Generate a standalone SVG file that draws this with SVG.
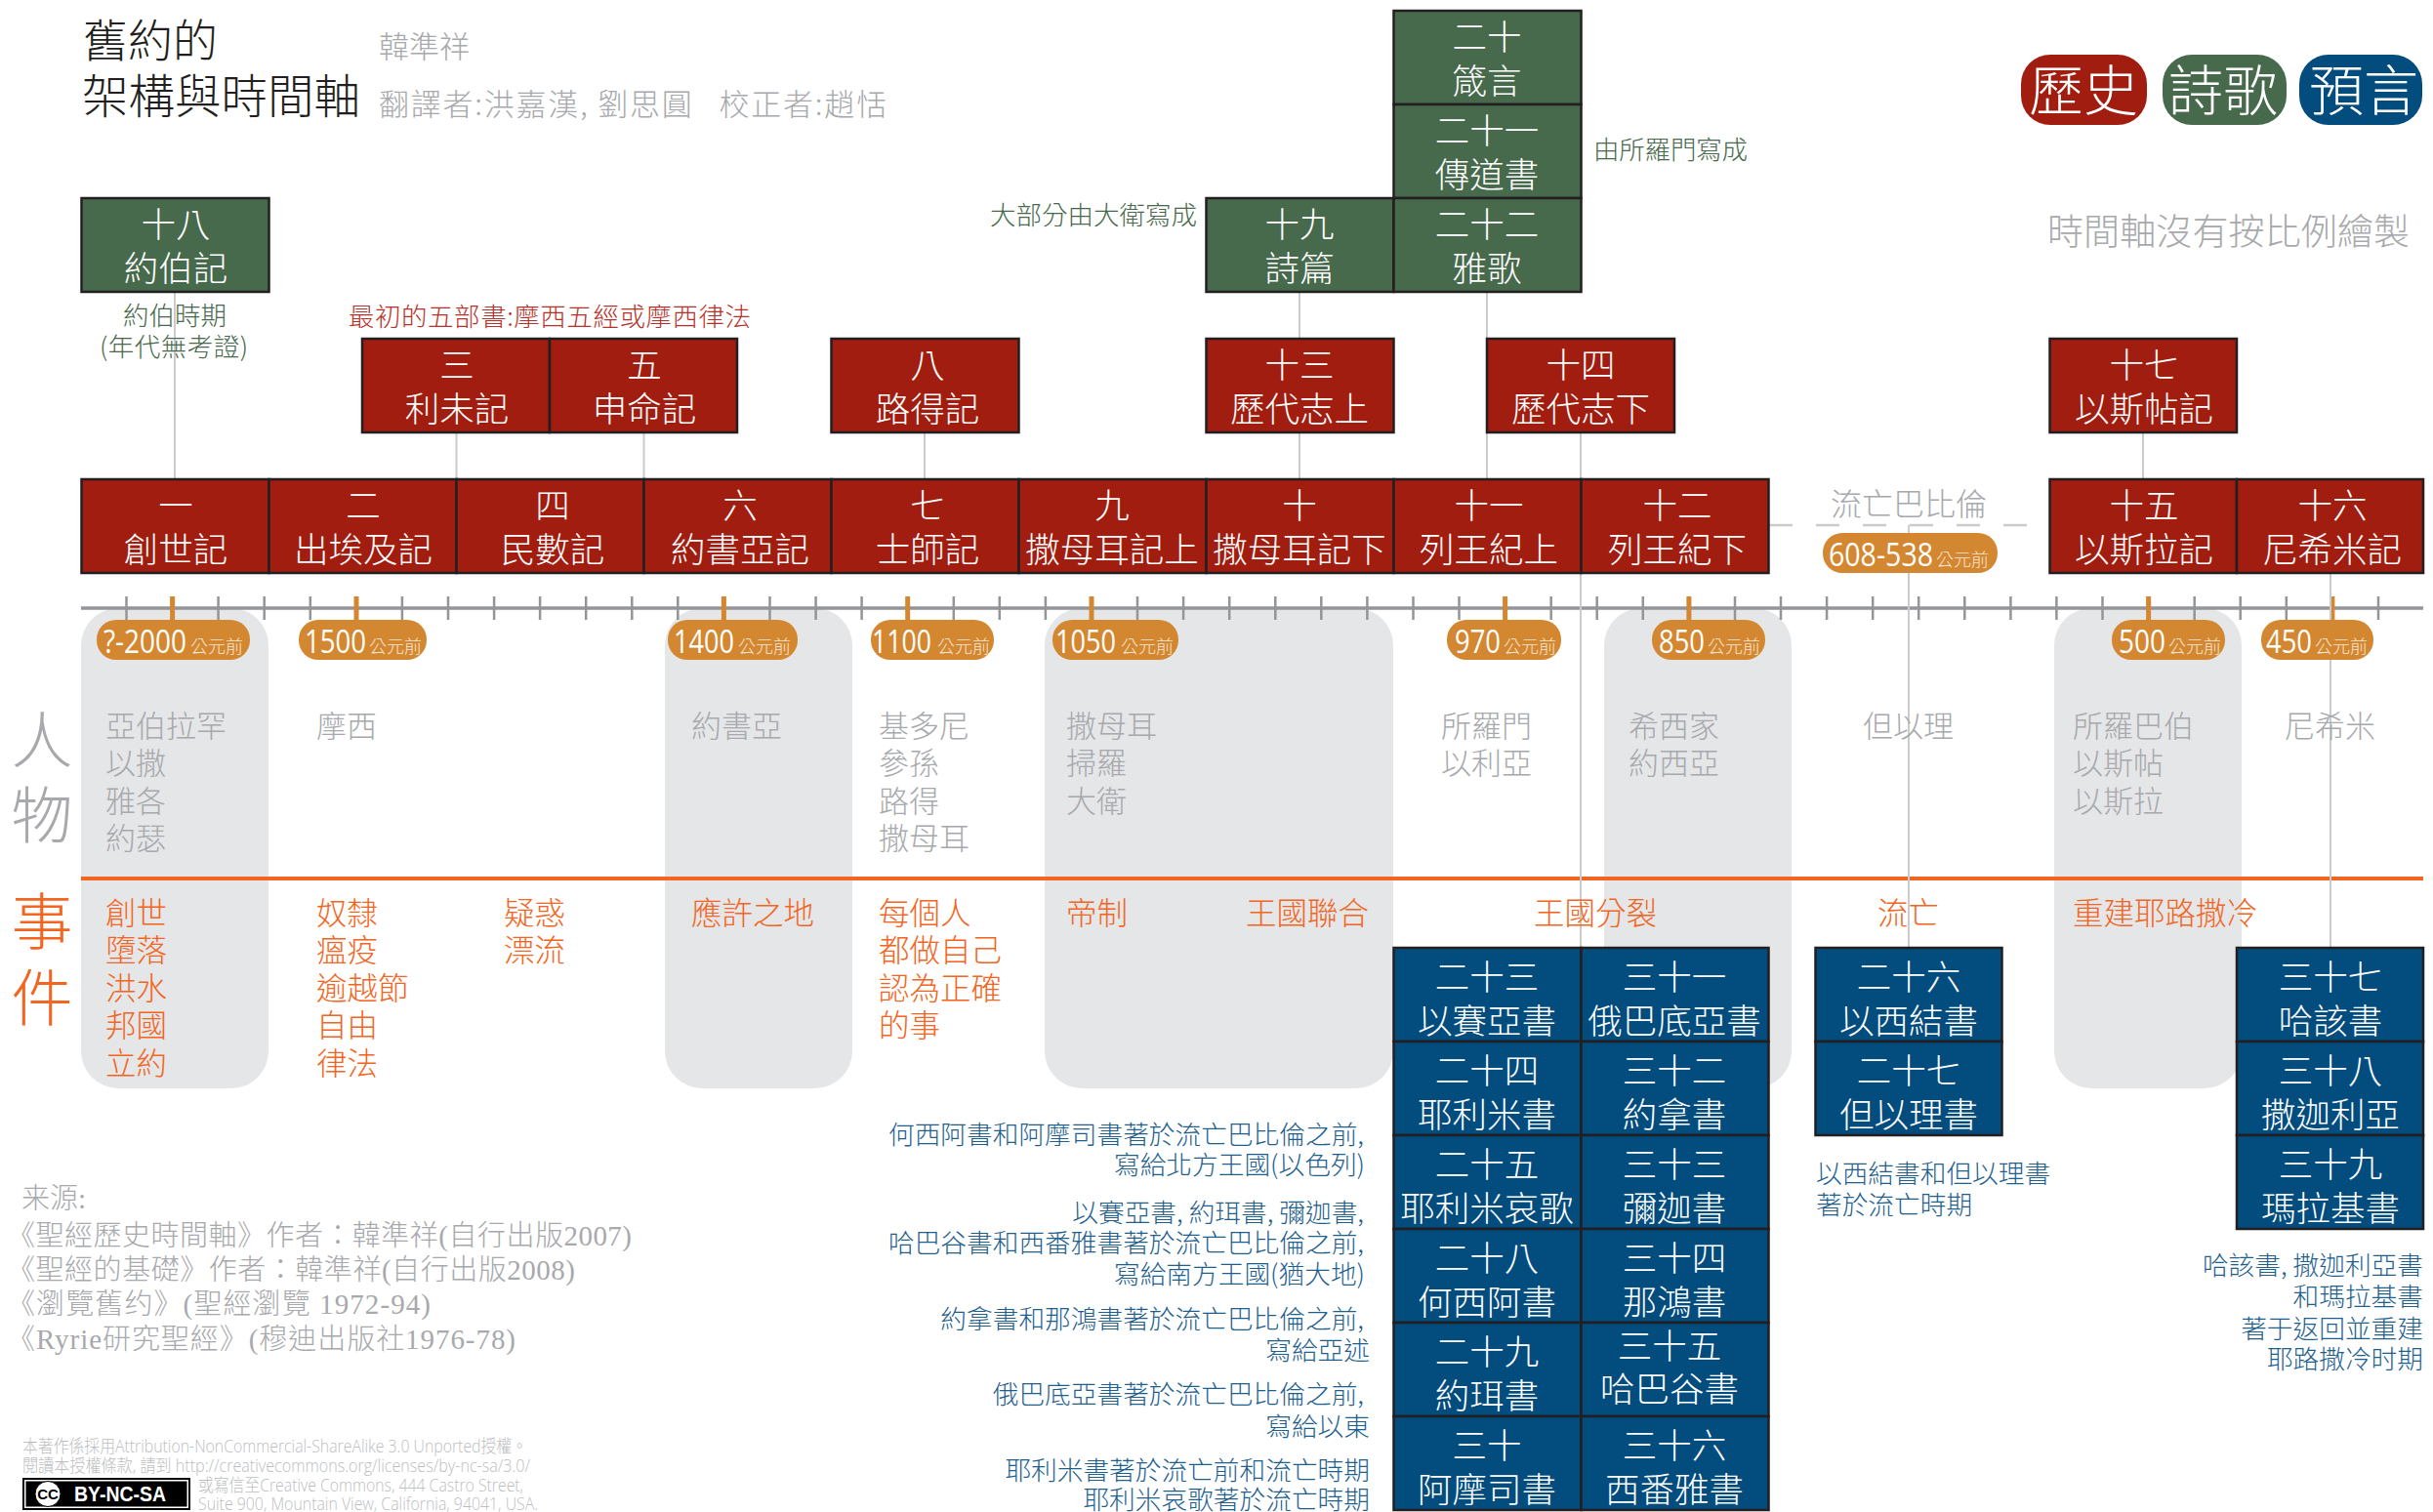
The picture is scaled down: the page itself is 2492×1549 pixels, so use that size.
<svg xmlns="http://www.w3.org/2000/svg" width="2492" height="1549" viewBox="0 0 2492 1549">
<style>
text{font-family:"Noto Sans CJK TC","Noto Sans CJK SC",sans-serif;font-weight:300}
.box{stroke:#231f20;stroke-width:2.5}
.red{fill:#a11d10}.green{fill:#47694c}.blue{fill:#034c7e}
.bt{font-size:35.5px;fill:#fff;text-anchor:middle}
.panel{fill:#e5e6e8}
.conn{stroke:#cbcbcb;stroke-width:2;fill:none}
.pill{fill:#d48731}
.num{font-family:"Open Sans",sans-serif;font-size:33px;fill:#fff;font-weight:400}
.unit{font-size:18px;fill:#f8e6d2}
.ppl{font-size:31px;fill:#a7a9ac}
.evt{font-size:31.5px;fill:#f26522}
.big{font-size:63px;text-anchor:middle}
.note{font-size:26.7px;fill:#1f5f8e}
.r{text-anchor:end}
.gn{font-size:26.5px;fill:#47694c}
.src{font-family:"Liberation Serif","Noto Sans CJK TC",serif;font-size:29px;fill:#a7a9ac}
.lic{font-family:"Open Sans","Noto Sans CJK TC",sans-serif;font-size:18px;fill:#bcbec0}
.leg{font-size:56px;fill:#fff;text-anchor:middle}
</style>

<g id="panels">
<rect class="panel" x="83" y="623" width="192" height="492" rx="38"/>
<rect class="panel" x="681" y="623" width="192" height="492" rx="38"/>
<rect class="panel" x="1070" y="623" width="357" height="492" rx="38"/>
<rect class="panel" x="1643" y="623" width="192" height="492" rx="38"/>
<rect class="panel" x="2104" y="623" width="192" height="492" rx="38"/>
</g>

<g id="timeline">
<path d="M83 900H2482" stroke="#f26522" stroke-width="4" fill="none"/>
<path d="M83 623H2482" stroke="#939598" stroke-width="3.5" fill="none"/>
<path fill="none" stroke="#939598" stroke-width="2.5" d="M129.5 611V635M223.6 611V635M270.7 611V635M317.8 611V635M411.9 611V635M459 611V635M506.1 611V635M553.1 611V635M600.2 611V635M647.3 611V635M694.3 611V635M788.5 611V635M835.6 611V635M882.6 611V635M976.8 611V635M1023.8 611V635M1070.9 611V635M1165 611V635M1212.1 611V635M1259.2 611V635M1306.3 611V635M1353.3 611V635M1400.4 611V635M1447.5 611V635M1494.5 611V635M1588.7 611V635M1635.7 611V635M1682.8 611V635M1777 611V635M1824 611V635M1871.1 611V635M1918.2 611V635M1965.2 611V635M2012.3 611V635M2059.4 611V635M2106.4 611V635M2153.5 611V635M2247.7 611V635M2294.7 611V635M2341.8 611V635M2436 611V635"/>
<path fill="none" stroke="#d48731" stroke-width="5" d="M176.6 611V636M365 611V636M741.4 611V636M929.7 611V636M1118 611V636M1541.6 611V636M1729.9 611V636M2200.6 611V636M2388.9 611V636"/>
</g>

<g id="connectors">
<path class="conn" d="M179 300V490M467.5 443V490M659.5 443V490M947 443V490M1331 300V346M1331 443V490M1523 300V490M1619 443V971M2195 443V490M1955 538V971M2387 587V971"/>
<path fill="none" stroke="#cbcbcb" stroke-width="2.5" stroke-dasharray="24 24" d="M1812 538H2076"/>
</g>

<g id="dates">
<g id="d1"><rect class="pill" x="99" y="635" width="157" height="41" rx="20"/><text class="num" x="106" y="669" textLength="85" lengthAdjust="spacingAndGlyphs">?-2000</text><text class="unit" x="195" y="669">公元前</text></g>
<g id="d2"><rect class="pill" x="306" y="635" width="131" height="41" rx="20"/><text class="num" x="312" y="669" textLength="63" lengthAdjust="spacingAndGlyphs">1500</text><text class="unit" x="378" y="669">公元前</text></g>
<g id="d3"><rect class="pill" x="684" y="635" width="133" height="41" rx="20"/><text class="num" x="690" y="669" textLength="62" lengthAdjust="spacingAndGlyphs">1400</text><text class="unit" x="756" y="669">公元前</text></g>
<g id="d4"><rect class="pill" x="892" y="635" width="126" height="41" rx="20"/><text class="num" x="893" y="669" textLength="61" lengthAdjust="spacingAndGlyphs">1100</text><text class="unit" x="960" y="669">公元前</text></g>
<g id="d5"><rect class="pill" x="1078" y="635" width="129" height="41" rx="20"/><text class="num" x="1081" y="669" textLength="62" lengthAdjust="spacingAndGlyphs">1050</text><text class="unit" x="1148" y="669">公元前</text></g>
<g id="d6"><rect class="pill" x="1482" y="635" width="117" height="41" rx="20"/><text class="num" x="1490" y="669" textLength="47" lengthAdjust="spacingAndGlyphs">970</text><text class="unit" x="1540" y="669">公元前</text></g>
<g id="d7"><rect class="pill" x="1692" y="635" width="116" height="41" rx="20"/><text class="num" x="1699" y="669" textLength="47" lengthAdjust="spacingAndGlyphs">850</text><text class="unit" x="1749" y="669">公元前</text></g>
<g id="d8"><rect class="pill" x="2163" y="635" width="116" height="41" rx="20"/><text class="num" x="2170" y="669" textLength="48" lengthAdjust="spacingAndGlyphs">500</text><text class="unit" x="2221" y="669">公元前</text></g>
<g id="d9"><rect class="pill" x="2316" y="635" width="115" height="41" rx="20"/><text class="num" x="2321" y="669" textLength="47" lengthAdjust="spacingAndGlyphs">450</text><text class="unit" x="2371" y="669">公元前</text></g>
<g id="d10"><rect class="pill" x="1867" y="546" width="179" height="41" rx="20"/><text class="num" x="1873" y="580" textLength="107" lengthAdjust="spacingAndGlyphs">608-538</text><text class="unit" x="1983" y="580">公元前</text></g>
</g>

<g id="n18"><rect class="box green" x="83.5" y="203" width="192" height="96"/><text class="bt" x="180" y="243">十八</text><text class="bt" x="180" y="288">約伯記</text></g>
<g id="n19"><rect class="box green" x="1235.5" y="203" width="192" height="96"/><text class="bt" x="1331" y="243">十九</text><text class="bt" x="1331" y="288">詩篇</text></g>
<g id="n20"><rect class="box green" x="1427.5" y="11" width="192" height="96"/><text class="bt" x="1523" y="51">二十</text><text class="bt" x="1523" y="96">箴言</text></g>
<g id="n21"><rect class="box green" x="1427.5" y="107" width="192" height="96"/><text class="bt" x="1523" y="147">二十一</text><text class="bt" x="1523" y="192">傳道書</text></g>
<g id="n22"><rect class="box green" x="1427.5" y="203" width="192" height="96"/><text class="bt" x="1523" y="243">二十二</text><text class="bt" x="1523" y="288">雅歌</text></g>

<g id="n3"><rect class="box red" x="371" y="347" width="192" height="96"/><text class="bt" x="468" y="387">三</text><text class="bt" x="468" y="432">利未記</text></g>
<g id="n5"><rect class="box red" x="563" y="347" width="192" height="96"/><text class="bt" x="660" y="387">五</text><text class="bt" x="660" y="432">申命記</text></g>
<g id="n8"><rect class="box red" x="851.5" y="347" width="192" height="96"/><text class="bt" x="950" y="387">八</text><text class="bt" x="950" y="432">路得記</text></g>
<g id="n13"><rect class="box red" x="1235.5" y="347" width="192" height="96"/><text class="bt" x="1331" y="387">十三</text><text class="bt" x="1331" y="432">歷代志上</text></g>
<g id="n14"><rect class="box red" x="1523" y="347" width="192" height="96"/><text class="bt" x="1619" y="387">十四</text><text class="bt" x="1619" y="432">歷代志下</text></g>
<g id="n17"><rect class="box red" x="2099.5" y="347" width="191.5" height="96"/><text class="bt" x="2196" y="387">十七</text><text class="bt" x="2196" y="432">以斯帖記</text></g>

<g id="n1"><rect class="box red" x="83.5" y="491" width="192" height="96"/><text class="bt" x="180" y="531">一</text><text class="bt" x="180" y="576">創世記</text></g>
<g id="n2"><rect class="box red" x="275.5" y="491" width="192" height="96"/><text class="bt" x="372" y="531">二</text><text class="bt" x="372" y="576">出埃及記</text></g>
<g id="n4"><rect class="box red" x="467.5" y="491" width="192" height="96"/><text class="bt" x="566" y="531">四</text><text class="bt" x="566" y="576">民數記</text></g>
<g id="n6"><rect class="box red" x="659.5" y="491" width="192" height="96"/><text class="bt" x="758" y="531">六</text><text class="bt" x="758" y="576">約書亞記</text></g>
<g id="n7"><rect class="box red" x="851.5" y="491" width="192" height="96"/><text class="bt" x="950" y="531">七</text><text class="bt" x="950" y="576">士師記</text></g>
<g id="n9"><rect class="box red" x="1043.5" y="491" width="192" height="96"/><text class="bt" x="1139" y="531">九</text><text class="bt" x="1139" y="576">撒母耳記上</text></g>
<g id="n10"><rect class="box red" x="1235.5" y="491" width="192" height="96"/><text class="bt" x="1331" y="531">十</text><text class="bt" x="1331" y="576">撒母耳記下</text></g>
<g id="n11"><rect class="box red" x="1427.5" y="491" width="192" height="96"/><text class="bt" x="1525" y="531">十一</text><text class="bt" x="1525" y="576">列王紀上</text></g>
<g id="n12"><rect class="box red" x="1619.5" y="491" width="192" height="96"/><text class="bt" x="1718" y="531">十二</text><text class="bt" x="1718" y="576">列王紀下</text></g>
<g id="n15"><rect class="box red" x="2099.5" y="491" width="191.5" height="96"/><text class="bt" x="2196" y="531">十五</text><text class="bt" x="2196" y="576">以斯拉記</text></g>
<g id="n16"><rect class="box red" x="2291" y="491" width="191" height="96"/><text class="bt" x="2389" y="531">十六</text><text class="bt" x="2389" y="576">尼希米記</text></g>

<g id="n23"><rect class="box blue" x="1427.5" y="971" width="192" height="96"/><text class="bt" x="1523" y="1014">二十三</text><text class="bt" x="1523" y="1059">以賽亞書</text></g>
<g id="n24"><rect class="box blue" x="1427.5" y="1067" width="192" height="96"/><text class="bt" x="1523" y="1110">二十四</text><text class="bt" x="1523" y="1155">耶利米書</text></g>
<g id="n25"><rect class="box blue" x="1427.5" y="1163" width="192" height="96"/><text class="bt" x="1523" y="1206">二十五</text><text class="bt" x="1523" y="1251">耶利米哀歌</text></g>
<g id="n28"><rect class="box blue" x="1427.5" y="1259" width="192" height="96"/><text class="bt" x="1523" y="1302">二十八</text><text class="bt" x="1523" y="1347">何西阿書</text></g>
<g id="n29"><rect class="box blue" x="1427.5" y="1355" width="192" height="96"/><text class="bt" x="1523" y="1398">二十九</text><text class="bt" x="1523" y="1443">約珥書</text></g>
<g id="n30"><rect class="box blue" x="1427.5" y="1451" width="192" height="96"/><text class="bt" x="1523" y="1494">三十</text><text class="bt" x="1523" y="1539">阿摩司書</text></g>
<g id="n31"><rect class="box blue" x="1619.5" y="971" width="192" height="96"/><text class="bt" x="1715" y="1014">三十一</text><text class="bt" x="1715" y="1059">俄巴底亞書</text></g>
<g id="n32"><rect class="box blue" x="1619.5" y="1067" width="192" height="96"/><text class="bt" x="1715" y="1110">三十二</text><text class="bt" x="1715" y="1155">約拿書</text></g>
<g id="n33"><rect class="box blue" x="1619.5" y="1163" width="192" height="96"/><text class="bt" x="1715" y="1206">三十三</text><text class="bt" x="1715" y="1251">彌迦書</text></g>
<g id="n34"><rect class="box blue" x="1619.5" y="1259" width="192" height="96"/><text class="bt" x="1715" y="1302">三十四</text><text class="bt" x="1715" y="1347">那鴻書</text></g>
<g id="n35"><rect class="box blue" x="1619.5" y="1355" width="192" height="96"/><text class="bt" x="1710" y="1392">三十五</text><text class="bt" x="1710" y="1436">哈巴谷書</text></g>
<g id="n36"><rect class="box blue" x="1619.5" y="1451" width="192" height="96"/><text class="bt" x="1715" y="1494">三十六</text><text class="bt" x="1715" y="1539">西番雅書</text></g>
<g id="n26"><rect class="box blue" x="1859.5" y="971" width="191" height="96"/><text class="bt" x="1955" y="1014">二十六</text><text class="bt" x="1955" y="1059">以西結書</text></g>
<g id="n27"><rect class="box blue" x="1859.5" y="1067" width="191" height="96"/><text class="bt" x="1955" y="1110">二十七</text><text class="bt" x="1955" y="1155">但以理書</text></g>
<g id="n37"><rect class="box blue" x="2291" y="971" width="191" height="96"/><text class="bt" x="2387" y="1014">三十七</text><text class="bt" x="2387" y="1059">哈該書</text></g>
<g id="n38"><rect class="box blue" x="2291" y="1067" width="191" height="96"/><text class="bt" x="2387" y="1110">三十八</text><text class="bt" x="2387" y="1155">撒迦利亞</text></g>
<g id="n39"><rect class="box blue" x="2291" y="1163" width="191" height="96"/><text class="bt" x="2387" y="1206">三十九</text><text class="bt" x="2387" y="1251">瑪拉基書</text></g>

<g id="title">
<text x="85" y="58" font-size="46" fill="#231f20">舊約的</text>
<text x="84" y="116" font-size="47.5" fill="#231f20">架構與時間軸</text>
<text x="388" y="59" font-size="31" fill="#a7a9ac">韓準祥</text>
<text x="388" y="118" font-size="31" fill="#a7a9ac" textLength="520">翻譯者:洪嘉漢, 劉思圓&#160;&#160;&#160;校正者:趙恬</text>
</g>

<g id="legend">
<rect class="red" x="2070" y="56" width="129" height="72" rx="30"/><text class="leg" x="2134" y="113">歷史</text>
<rect class="green" x="2215" y="56" width="127" height="72" rx="30"/><text class="leg" x="2277" y="113">詩歌</text>
<rect class="blue" x="2355" y="56" width="126" height="72" rx="30"/><text class="leg" x="2421" y="113">預言</text>
</g>

<g id="annotations">
<text x="2097" y="251" font-size="37" fill="#a7a9ac" textLength="371">時間軸沒有按比例繪製</text>
<text x="126" y="333" class="gn">約伯時期</text>
<text x="102" y="365" class="gn" textLength="152">(年代無考證)</text>
<text x="357" y="334" font-size="26.5" fill="#b8302a" textLength="412">最初的五部書:摩西五經或摩西律法</text>
<text x="1014" y="230" class="gn" textLength="212">大部分由大衛寫成</text>
<text x="1632" y="163" class="gn" textLength="158">由所羅門寫成</text>
<text x="1955" y="528" font-size="32" fill="#a7a9ac" text-anchor="middle">流亡巴比倫</text>
</g>

<g id="people">
<text class="big" x="43" y="781" fill="#a7a9ac">人</text><text class="big" x="43" y="858" fill="#a7a9ac">物</text>
<text class="ppl" x="108" y="755">亞伯拉罕</text><text class="ppl" x="108" y="793">以撒</text><text class="ppl" x="108" y="832">雅各</text><text class="ppl" x="108" y="870">約瑟</text>
<text class="ppl" x="324" y="755">摩西</text>
<text class="ppl" x="708" y="755">約書亞</text>
<text class="ppl" x="900" y="755">基多尼</text><text class="ppl" x="900" y="793">參孫</text><text class="ppl" x="900" y="832">路得</text><text class="ppl" x="900" y="870">撒母耳</text>
<text class="ppl" x="1092" y="755">撒母耳</text><text class="ppl" x="1092" y="793">掃羅</text><text class="ppl" x="1092" y="832">大衛</text>
<text class="ppl" x="1476" y="755">所羅門</text><text class="ppl" x="1476" y="793">以利亞</text>
<text class="ppl" x="1668" y="755">希西家</text><text class="ppl" x="1668" y="793">約西亞</text>
<text class="ppl" x="1908" y="755">但以理</text>
<text class="ppl" x="2123" y="755">所羅巴伯</text><text class="ppl" x="2123" y="793">以斯帖</text><text class="ppl" x="2123" y="832">以斯拉</text>
<text class="ppl" x="2340" y="755">尼希米</text>
</g>

<g id="events">
<text class="big" x="43" y="967" fill="#f26522">事</text><text class="big" x="43" y="1045" fill="#f26522">件</text>
<text class="evt" x="108" y="947">創世</text><text class="evt" x="108" y="985">墮落</text><text class="evt" x="108" y="1024">洪水</text><text class="evt" x="108" y="1062">邦國</text><text class="evt" x="108" y="1101">立約</text>
<text class="evt" x="324" y="947">奴隸</text><text class="evt" x="324" y="985">瘟疫</text><text class="evt" x="324" y="1024">逾越節</text><text class="evt" x="324" y="1062">自由</text><text class="evt" x="324" y="1101">律法</text>
<text class="evt" x="516" y="947">疑惑</text><text class="evt" x="516" y="985">漂流</text>
<text class="evt" x="708" y="947">應許之地</text>
<text class="evt" x="900" y="947">每個人</text><text class="evt" x="900" y="985">都做自己</text><text class="evt" x="900" y="1024">認為正確</text><text class="evt" x="900" y="1062">的事</text>
<text class="evt" x="1092" y="947">帝制</text>
<text class="evt" x="1276" y="947">王國聯合</text>
<text class="evt" x="1571" y="947">王國分裂</text>
<text class="evt" x="1923" y="947">流亡</text>
<text class="evt" x="2123" y="947">重建耶路撒冷</text>
</g>

<g id="notes">
<text class="note r" x="1397" y="1172">何西阿書和阿摩司書著於流亡巴比倫之前,</text>
<text class="note r" x="1398" y="1203">寫給北方王國(以色列)</text>
<text class="note r" x="1397" y="1252">以賽亞書, 約珥書, 彌迦書,</text>
<text class="note r" x="1397" y="1283">哈巴谷書和西番雅書著於流亡巴比倫之前,</text>
<text class="note r" x="1398" y="1315">寫給南方王國(猶大地)</text>
<text class="note r" x="1397" y="1361">約拿書和那鴻書著於流亡巴比倫之前,</text>
<text class="note r" x="1403" y="1393">寫給亞述</text>
<text class="note r" x="1397" y="1438">俄巴底亞書著於流亡巴比倫之前,</text>
<text class="note r" x="1403" y="1471">寫給以東</text>
<text class="note r" x="1403" y="1516">耶利米書著於流亡前和流亡時期</text>
<text class="note r" x="1403" y="1546">耶利米哀歌著於流亡時期</text>
<text class="note" x="1860" y="1212">以西結書和但以理書</text>
<text class="note" x="1860" y="1244">著於流亡時期</text>
<text class="note r" x="2482" y="1306">哈該書, 撒迦利亞書</text>
<text class="note r" x="2482" y="1338">和瑪拉基書</text>
<text class="note r" x="2482" y="1371">著于返回並重建</text>
<text class="note r" x="2482" y="1402">耶路撒冷时期</text>
</g>

<g id="sources">
<text class="src" x="22" y="1238">来源:</text>
<text class="src" x="7" y="1276" textLength="640">《聖經歷史時間軸》作者：韓準祥(自行出版2007)</text>
<text class="src" x="7" y="1311" textLength="582">《聖經的基礎》作者：韓準祥(自行出版2008)</text>
<text class="src" x="7" y="1346" textLength="434">《瀏覽舊约》(聖經瀏覽 1972-94)</text>
<text class="src" x="7" y="1382" textLength="521">《Ryrie研究聖經》(穆迪出版社1976-78)</text>
</g>

<g id="license">
<text class="lic" x="23" y="1488" textLength="517" lengthAdjust="spacingAndGlyphs">本著作係採用Attribution-NonCommercial-ShareAlike 3.0 Unported授權。</text>
<text class="lic" x="23" y="1508" textLength="520" lengthAdjust="spacingAndGlyphs">閱讀本授權條款, 請到 http://creativecommons.org/licenses/by-nc-sa/3.0/</text>
<text class="lic" x="203" y="1528" textLength="333" lengthAdjust="spacingAndGlyphs">或寫信至Creative Commons, 444 Castro Street,</text>
<text class="lic" x="203" y="1547" textLength="348" lengthAdjust="spacingAndGlyphs">Suite 900, Mountain View, California, 94041, USA.</text>
<rect x="23" y="1514" width="172" height="33" fill="#000"/>
<rect x="25" y="1516" width="168" height="29" fill="#fff"/>
<rect x="26.5" y="1517.5" width="165" height="26" fill="#000"/>
<circle cx="49" cy="1530.5" r="13" fill="#fff" stroke="#000" stroke-width="1"/>
<text x="49" y="1536" font-size="15" text-anchor="middle" fill="#000" style="font-family:'Liberation Sans',sans-serif;font-weight:700">CC</text>
<text x="76" y="1538" font-size="22" fill="#fff" textLength="94" lengthAdjust="spacingAndGlyphs" style="font-family:'Liberation Sans',sans-serif;font-weight:700">BY-NC-SA</text>
</g>
</svg>
